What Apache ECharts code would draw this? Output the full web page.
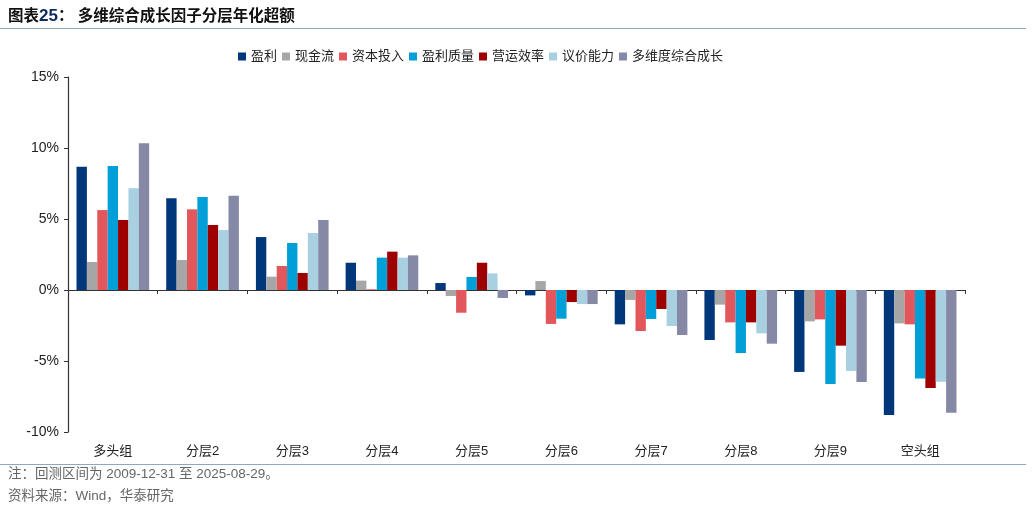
<!DOCTYPE html>
<html>
<head>
<meta charset="utf-8">
<script src="https://cdn.jsdelivr.net/npm/echarts@6/dist/echarts.min.js"></script>
<style>
html,body{margin:0;padding:0;background:#fff;}
#chart{width:1036px;height:510px;}
</style>
</head>
<body>
<div id="chart"></div>
<script>
const categories = ['多头组','分层2','分层3','分层4','分层5','分层6','分层7','分层8','分层9','空头组'];
const seriesNames = ['盈利','现金流','资本投入','盈利质量','营运效率','议价能力','多维度综合成长'];
const yTicks = [-10, -5, 0, 5, 10, 15];
const s_yingli   = [8.68, 6.46, 3.73, 1.92, 0.49, -0.38, -2.42, -3.52, -5.77, -8.80];
const s_xianjin  = [1.97, 2.11, 0.94, 0.66, -0.42, 0.63, -0.70, -1.03, -2.21, -2.35];
const s_ziben    = [5.63, 5.68, 1.69, 0.05, -1.60, -2.39, -2.89, -2.28, -2.07, -2.42];
const s_zhiliang = [8.73, 6.55, 3.31, 2.28, 0.92, -2.02, -2.04, -4.44, -6.62, -6.24];
const s_yunying  = [4.93, 4.58, 1.20, 2.70, 1.92, -0.85, -1.34, -2.28, -3.92, -6.90];
const s_yijia    = [7.16, 4.22, 4.01, 2.28, 1.17, -0.99, -2.54, -3.05, -5.70, -6.46];
const s_duowei   = [10.33, 6.64, 4.93, 2.44, -0.56, -0.99, -3.17, -3.78, -6.48, -8.64];
const seriesData = [s_yingli, s_xianjin, s_ziben, s_zhiliang, s_yunying, s_yijia, s_duowei];
const colors = ['#00377A','#A6A6A6','#E2575B','#009FD8','#9E0000','#A9D0E0','#8689A6'];

const FONT = '"Liberation Sans", "Noto Sans CJK SC", sans-serif';
const chart = echarts.init(document.getElementById('chart'));
const option = {
  animation: false,
  backgroundColor: '#fff',
  color: colors,
  textStyle: { fontFamily: FONT },
  grid: { left: 68, right: 71, top: 77, bottom: 78, containLabel: false },
  legend: {
    left: 233, top: 45,
    itemWidth: 8, itemHeight: 8, itemGap: 5,
    icon: 'rect',
    textStyle: { fontSize: 13, color: '#222', fontFamily: FONT },
    data: seriesNames
  },
  xAxis: [
    {
      type: 'category', data: categories, position: 'bottom',
      axisLine: { show: false, onZero: false },
      axisTick: { show: false },
      axisLabel: { color: '#222', fontSize: 13, margin: 13, fontFamily: FONT }
    },
    {
      type: 'category', data: categories, position: 'bottom',
      axisLine: { show: true, onZero: true, lineStyle: { color: '#333', width: 1.2 } },
      axisTick: { show: true, length: 4, lineStyle: { color: '#333' } },
      axisLabel: { show: false }
    }
  ],
  yAxis: {
    type: 'value', min: yTicks[0], max: yTicks[yTicks.length - 1], interval: 5,
    axisLine: { show: true, lineStyle: { color: '#333', width: 1.2 } },
    axisTick: { show: true, length: 4, lineStyle: { color: '#333' } },
    splitLine: { show: false },
    axisLabel: { formatter: '{value}%', color: '#222', fontSize: 14, margin: 9, fontFamily: FONT }
  },
  graphic: [
    {
      type: 'text', left: 8, top: 8,
      style: {
        text: '{a|图表}{b|25}{a|： 多维综合成长因子分层年化超额}',
        rich: {
          a: { fontSize: 15.5, fontWeight: 'bold', fill: '#111', fontFamily: FONT },
          b: { fontSize: 17, fontWeight: 'bold', fill: '#0B2A5B', fontFamily: FONT }
        }
      }
    },
    { type: 'rect', shape: { x: 0, y: 28, width: 1026, height: 1 }, style: { fill: '#8FA7C0' } },
    { type: 'rect', shape: { x: 0, y: 464, width: 1026, height: 1 }, style: { fill: '#8FA7C0' } },
    {
      type: 'text', left: 8, top: 468,
      style: { text: '注：回测区间为 2009-12-31 至 2025-08-29。', fontSize: 13.5, fill: '#666', fontFamily: FONT }
    },
    {
      type: 'text', left: 8, top: 490,
      style: { text: '资料来源：Wind，华泰研究', fontSize: 13.5, fill: '#666', fontFamily: FONT }
    }
  ],
  series: seriesNames.map((n, i) => ({
    name: n, type: 'bar', xAxisIndex: 0, data: seriesData[i],
    barGap: '0%', barCategoryGap: '19%',
    itemStyle: { color: colors[i] }
  }))
};
chart.setOption(option);
</script>
</body>
</html>
